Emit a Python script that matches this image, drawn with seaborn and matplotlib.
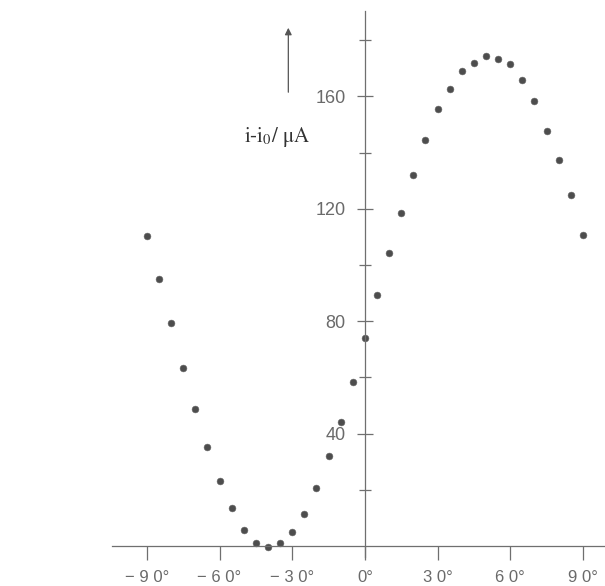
import pandas as pd
import matplotlib
matplotlib.use('Agg')
import matplotlib.pyplot as plt
import seaborn as sns

# =============================
# DATA
# =============================
angle_deg = [-90, -85, -80, -75, -70, -65, -60, -55, -50, -45, -40, -35,
             -30, -25, -20, -15, -10, -5, 0, 5, 10, 15, 20, 25, 30, 35,
             40, 45, 50, 55, 60, 65, 70, 75, 80, 85, 90]
current_ua = [110.3, 94.9, 79.4, 63.3, 48.6, 35.1, 23.2, 13.5, 5.9, 1.2, -0.2, 1.0,
              5.1, 11.5, 20.6, 32.0, 44.0, 58.3, 74.1, 89.2, 104.3, 118.5, 131.9,
              144.6, 155.4, 162.7, 169.0, 171.9, 174.4, 173.3, 171.4, 165.9, 158.4,
              147.8, 137.5, 125.0, 110.8]

x_ticks = [-90, -60, -30, 0, 30, 60, 90]
x_tick_labels = ['\u2212 9 0\u00b0', '\u2212 6 0\u00b0', '\u2212 3 0\u00b0', '0\u00b0',
                 '3 0\u00b0', '6 0\u00b0', '9 0\u00b0']
y_major = [40, 80, 120, 160]
y_minor = [20, 60, 100, 140, 180]

df = pd.DataFrame({'angle': angle_deg, 'current': current_ua})

# =============================
# PLOT
# =============================
sns.set_style('white')
plt.rcParams['font.family'] = ['Liberation Sans', 'DejaVu Sans']
plt.rcParams['mathtext.fontset'] = 'stix'

AXIS_COLOR = '#6f6f6f'
LABEL_COLOR = '#6a6a6a'

fig = plt.figure(figsize=(6.05, 5.86), dpi=100)
ax = fig.add_axes([0, 0, 1, 1])

sns.scatterplot(data=df, x='angle', y='current', ax=ax,
                color='#4d4d4d', s=24, edgecolor='#666666', linewidth=0.4)

ax.set_xlim(-150.6, 99.1)
ax.set_ylim(-14.2, 194.3)

for side in ['top', 'right']:
    ax.spines[side].set_visible(False)
ax.spines['left'].set_position(('data', 0))
ax.spines['bottom'].set_position(('data', 0))
ax.spines['left'].set_bounds(-4, 190.5)
ax.spines['bottom'].set_bounds(-104.5, 99.1)
for side in ['left', 'bottom']:
    ax.spines[side].set_color(AXIS_COLOR)
    ax.spines[side].set_linewidth(0.9)

ax.set_xticks(x_ticks)
ax.set_xticklabels(x_tick_labels)
ax.set_yticks(y_major)
ax.set_yticks(y_minor, minor=True)

# seaborn's white style hides the tick marks, turn them back on
ax.tick_params(axis='x', which='both', bottom=True, direction='out', length=10,
               width=0.9, color=AXIS_COLOR, labelsize=12, labelcolor=LABEL_COLOR,
               pad=7)
ax.tick_params(axis='y', which='major', left=True, direction='inout', length=12,
               width=0.9, color=AXIS_COLOR, labelsize=13, labelcolor=LABEL_COLOR,
               pad=8)
ax.tick_params(axis='y', which='minor', left=True, direction='inout', length=8,
               width=0.9, color=AXIS_COLOR)

ax.set_xlabel('')
ax.set_ylabel('')

# y-axis quantity with an upward arrow
ax.annotate('', xy=(-31.6, 185.4), xytext=(-31.6, 160.5),
            arrowprops=dict(arrowstyle='-|>', color='#555555', lw=0.9,
                            mutation_scale=10))
ax.text(-36.2, 145.5, 'i-i$_0$/ \u03bcA', family='STIXGeneral', fontsize=15,
        color='#333333', ha='center', va='center')

fig.savefig('out.png', dpi=100)
plt.close(fig)
